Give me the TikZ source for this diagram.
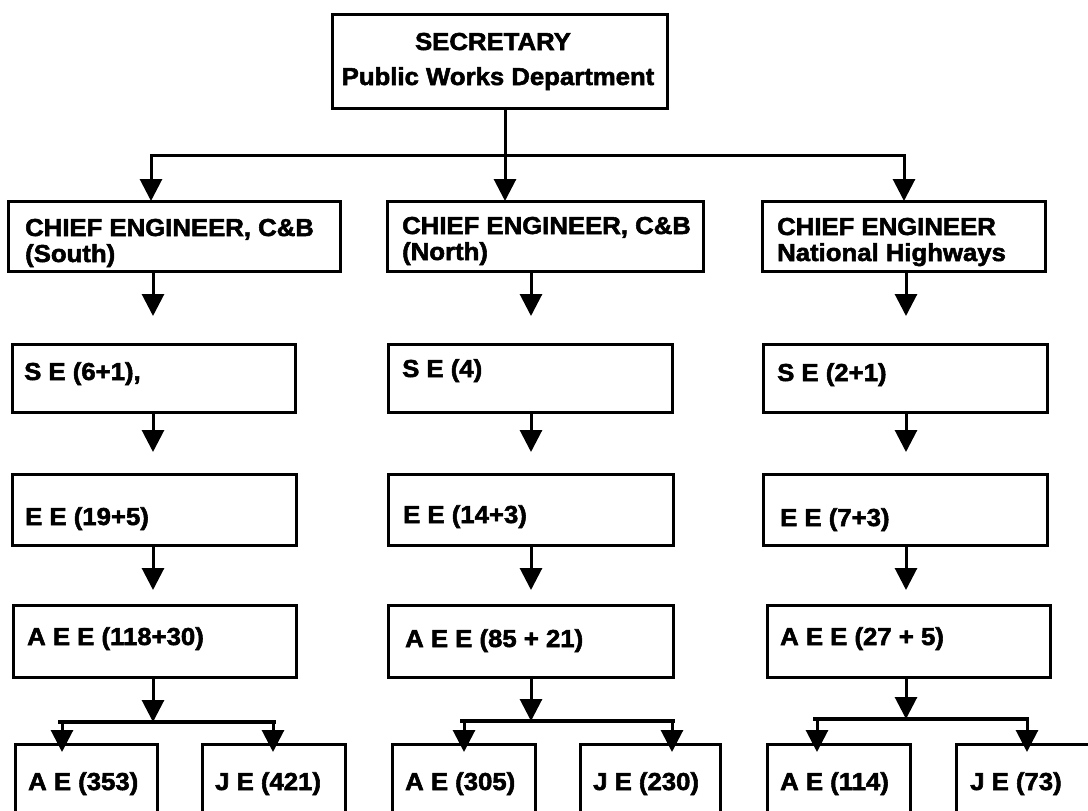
\documentclass[tikz,border=0pt]{standalone}
\usepackage{fontspec}
\setmainfont{Liberation Sans}[FakeStretch=1.05, BoldFeatures={FakeBold=2.2}]
\usetikzlibrary{arrows.meta}

% a framed box given by its top-left corner, width and height
\newcommand{\orgbox}[5]{%
  \node[box, minimum width=#4pt, minimum height=#5pt, anchor=north west] (#1) at (#2,#3) {};}

\begin{document}
\begin{tikzpicture}[x=1pt, y=-1pt,
  box/.style={draw, line width=3pt, rectangle, inner sep=0pt, outer sep=0pt},
  txt/.style={inner sep=0pt, font=\fontsize{24.5}{26}\selectfont\bfseries},
  lbl/.style={txt, anchor=base west},
  ctr/.style={txt, anchor=base},
  link/.style={line width=3pt, line cap=rect},
  bar/.style={line width=3.5pt},
  arr/.style={line width=3pt, -{Triangle[width=22pt,length=22pt]}}
]
\useasboundingbox (0,0) rectangle (1088,811);
\fill[white] (0,0) rectangle (1088,811);
\clip (0,0) rectangle (1088,811);

% ---- boxes ----
\orgbox{sec}{332}{14}{335}{94}
\orgbox{ceS}{8}{201}{332}{70}
\orgbox{ceN}{387}{201}{316}{70}
\orgbox{ceH}{762}{201}{283}{70}
\orgbox{seS}{12}{344}{283}{68}
\orgbox{seN}{388}{344}{284}{68}
\orgbox{seH}{763}{344}{284}{68}
\orgbox{eeS}{12}{474}{284}{71}
\orgbox{eeN}{388}{474}{285}{71}
\orgbox{eeH}{763}{474}{284}{71}
\orgbox{aeeS}{13}{605}{283}{72}
\orgbox{aeeN}{388}{605}{285}{72}
\orgbox{aeeH}{767}{605}{283}{72}
\orgbox{aeS}{15}{744}{142}{70}
\orgbox{jeS}{202}{744}{143}{70}
\orgbox{aeN}{392}{744}{143}{70}
\orgbox{jeN}{580}{744}{140}{70}
\orgbox{aeH}{767}{744}{143}{70}
\orgbox{jeH}{956}{744}{150}{70}

% ---- texts ----
\node[ctr] (secA) at (493,50) {SECRETARY};
\node[ctr] (secB) at (498,85) {Public Works Department};

\node[lbl] (ceSa) at (25,236) {CHIEF ENGINEER, C\&B};
\node[lbl] (ceSb) at (25,262) {(South)};
\node[lbl] (ceNa) at (402,234) {CHIEF ENGINEER, C\&B};
\node[lbl] (ceNb) at (402,260) {(North)};
\node[lbl] (ceHa) at (777,235) {CHIEF ENGINEER};
\node[lbl] (ceHb) at (777,261) {National Highways};

\node[lbl] (seSt) at (24,380) {S E (6+1),};
\node[lbl] (seNt) at (402,377) {S E (4)};
\node[lbl] (seHt) at (777,381) {S E (2+1)};

\node[lbl] (eeSt) at (25,525) {E E (19+5)};
\node[lbl] (eeNt) at (403,523) {E E (14+3)};
\node[lbl] (eeHt) at (780,526) {E E (7+3)};

\node[lbl] (aeeSt) at (27,645) {A E E (118+30)};
\node[lbl] (aeeNt) at (405,647) {A E E (85 + 21)};
\node[lbl] (aeeHt) at (780,645) {A E E (27 + 5)};

\node[lbl] (aeSt) at (28,790) {A E (353)};
\node[lbl] (jeSt) at (215,790) {J E (421)};
\node[lbl] (aeNt) at (405,790) {A E (305)};
\node[lbl] (jeNt) at (593,790) {J E (230)};
\node[lbl] (aeHt) at (780,790) {A E (114)};
\node[lbl] (jeHt) at (970,790) {J E (73)};

% ---- branching below the secretary ----
\coordinate (hub) at (505,155);
\coordinate (brL) at (151,155);
\coordinate (brR) at (904,155);
\draw[link] (sec.south -| hub) -- (hub);
\draw[link] (brL) -- (brR);
\draw[arr] (brL) -- (brL |- ceS.north);
\draw[arr] (hub) -- (hub |- ceN.north);
\draw[arr] (brR) -- (brR |- ceH.north);

% ---- column axes ----
\coordinate (colS) at (153,0);
\coordinate (colN) at (531,0);
\coordinate (colH) at (906,0);

% ---- chains down each column ----
\foreach \c in {S,N,H}{
  \draw[arr, shorten >=28pt] (col\c |- ce\c.south) -- (col\c |- se\c.north);
  \draw[arr, shorten >=22pt] (col\c |- se\c.south) -- (col\c |- ee\c.north);
  \draw[arr, shorten >=15pt] (col\c |- ee\c.south) -- (col\c |- aee\c.north);
}

% ---- split bars to A E and J E ----
\coordinate (bSl) at (58,722);  \coordinate (bSr) at (276,722);
\coordinate (bNl) at (460,721); \coordinate (bNr) at (675,721);
\coordinate (bHl) at (813,719); \coordinate (bHr) at (1029,719);
\draw[bar] (bSl) -- (bSr);
\draw[bar] (bNl) -- (bNr);
\draw[bar] (bHl) -- (bHr);
\draw[arr] (colS |- aeeS.south) -- (colS |- bSl);
\draw[arr] (colN |- aeeN.south) -- (colN |- bNl);
\draw[arr] (colH |- aeeH.south) -- (colH |- bHl);

\coordinate (dSa) at (62,722);  \coordinate (dSj) at (273,722);
\coordinate (dNa) at (464,721); \coordinate (dNj) at (672,721);
\coordinate (dHa) at (817,719); \coordinate (dHj) at (1027,719);
\draw[arr, shorten >=-8pt] (dSa) -- (dSa |- aeS.north);
\draw[arr, shorten >=-8pt] (dSj) -- (dSj |- jeS.north);
\draw[arr, shorten >=-8pt] (dNa) -- (dNa |- aeN.north);
\draw[arr, shorten >=-8pt] (dNj) -- (dNj |- jeN.north);
\draw[arr, shorten >=-8pt] (dHa) -- (dHa |- aeH.north);
\draw[arr, shorten >=-8pt] (dHj) -- (dHj |- jeH.north);
\end{tikzpicture}
\end{document}
